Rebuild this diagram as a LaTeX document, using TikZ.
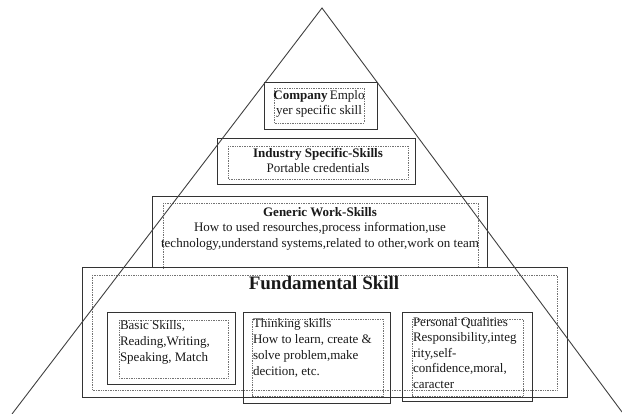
\documentclass[tikz,border=0pt]{standalone}
\usepackage{fontspec}
\setmainfont{Liberation Serif}
\begin{document}
\begin{tikzpicture}[x=1pt,y=-1pt,
  outerbox/.style={draw=black!80,line width=1pt},
  innerbox/.style={draw=black!55,line width=0.7pt,densely dotted},
  tri/.style={draw=black!75,line width=0.9pt},
  txt/.style={inner sep=0pt,outer sep=0pt,text=black!90,font=\fontsize{13}{15.5}\selectfont},
  ltxt/.style={txt,anchor=north west,align=left,font=\fontsize{13}{16}\selectfont},
  ctxt/.style={txt,anchor=north,align=center}]
\useasboundingbox (0,0) rectangle (622,414);
% pyramid outline
\coordinate (apex) at (322,8);
\coordinate (bl) at (12,414);
\coordinate (br) at (622,412);
% company
\draw[outerbox] (264,83) rectangle (377,130);
\draw[innerbox] (274,88) rectangle (364,123);
\node[ctxt] (company) at (319,90) {\textbf{Company}\,Emplo\\yer specific skill};
% industry
\draw[outerbox] (217,139) rectangle (415,185);
\draw[innerbox] (228,146) rectangle (408,179);
\node[ctxt] (industry) at (318,148) {\textbf{Industry Specific-Skills}\\Portable credentials};
% generic
\draw[outerbox] (152,197) rectangle (487,268);
\draw[innerbox] (163,203) -- (163,268) (478,268) -- (478,203) -- (163,203);
\node[ctxt] (generic) at (320,207) {\textbf{Generic Work-Skills}\\How to used resourches,process information,use\\technology,understand systems,related to other,work on team};
% fundamental
\draw[outerbox] (82,268) rectangle (567,398);
\draw[innerbox] (92,275) rectangle (557,390);
\node[txt,anchor=north,font=\fontsize{19}{21}\selectfont\bfseries] (fund) at (324,276) {Fundamental Skill};
% basic
\draw[outerbox] (107,313) rectangle (235,385);
\draw[innerbox] (119,320) rectangle (228,378);
\node[ltxt] (basic) at (120,320) {Basic Skills,\\Reading,Writing,\\Speaking, Match};
% thinking
\draw[outerbox] (243,313) rectangle (390,404);
\draw[innerbox] (252,319) rectangle (383,396);
\node[ltxt] (thinking) at (253,318) {Thinking skills\\How to learn, create \&\\solve problem,make\\decition, etc.};
% personal
\draw[outerbox] (402,313) rectangle (532,402);
\draw[innerbox] (412,319) rectangle (523,396);
\node[ltxt,font=\fontsize{13}{15.5}\selectfont] (personal) at (413,317) {Personal Qualities\\Responsibility,integ\\rity,self-\\confidence,moral,\\caracter};
% triangle
\draw[tri] (bl) -- (apex) -- (br);
\end{tikzpicture}
\end{document}
